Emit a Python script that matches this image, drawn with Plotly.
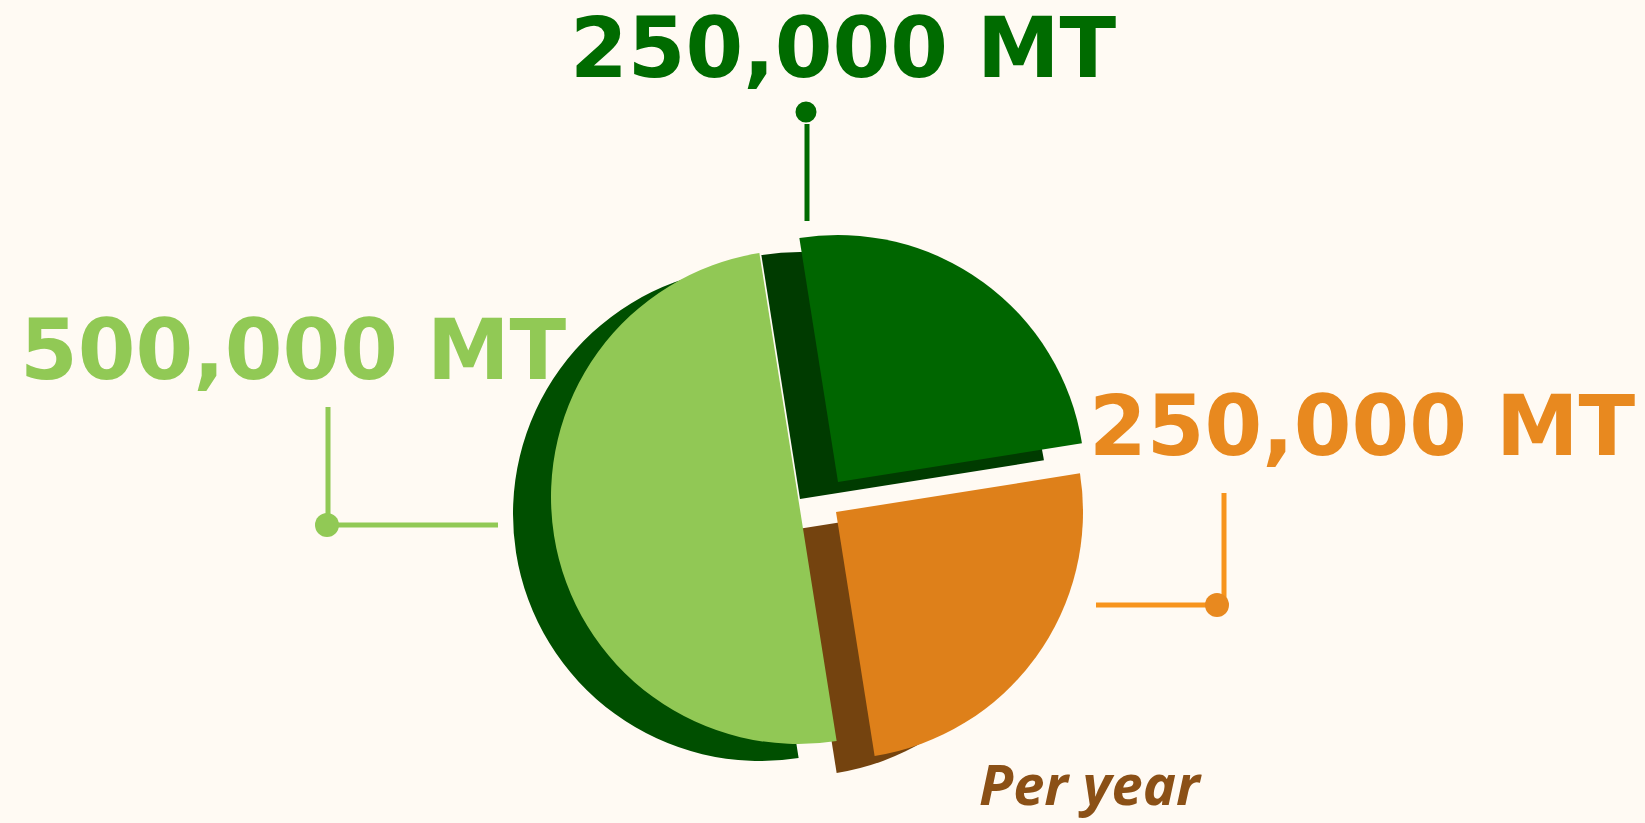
import plotly.graph_objects as go

W, H = 1645, 823

# ---- data ----
segments = ["Segment 1", "Segment 2", "Segment 3"]
volumes_mt = [250000, 250000, 500000]
value_labels = [f"{v:,} MT" for v in volumes_mt]
unit_note = "Per year"

# ---- styles ----
top_colors = ["#006600", "#de801a", "#91c855"]
side_colors = ["#003b00", "#74430f", "#004f00"]
label_colors = ["#006b00", "#e8891f", "#91c955"]
line_colors = ["#006b00", "#f7941d", "#91c955"]
bg = "#fffaf3"

R = 247
slice_centers = [(838, 482), (836, 512), (798, 497)]   # px, per slice (exploded)
depth = (-38, 17)                                       # extrusion offset px
draw_order = [2, 0, 1]


def dom(cx, cy):
    return dict(x=[(cx - R) / W, (cx + R) / W],
                y=[1 - (cy + R) / H, 1 - (cy - R) / H])


fig = go.Figure()
for layer in ("side", "top"):
    for i in draw_order:
        cx, cy = slice_centers[i]
        if layer == "side":
            cx, cy = cx + depth[0], cy + depth[1]
            pal = side_colors
        else:
            pal = top_colors
        cols = [pal[j] if j == i else "rgba(0,0,0,0)" for j in range(len(volumes_mt))]
        fig.add_trace(go.Pie(
            labels=segments, values=volumes_mt, sort=False,
            direction="clockwise", rotation=-9,
            marker=dict(colors=cols, line=dict(width=0)),
            textinfo="none", hoverinfo="skip", showlegend=False,
            domain=dom(cx, cy),
        ))

label_pos = [(843, 48), (1362, 426), (293, 350)]
for i, (x, y) in enumerate(label_pos):
    fig.add_annotation(x=x / W, y=1 - y / H, xref="paper", yref="paper",
                       text=value_labels[i], showarrow=False,
                       xanchor="center", yanchor="middle", borderpad=0,
                       font=dict(family="DejaVu Sans", size=83, color=label_colors[i],
                                 weight="bold"))

fig.add_annotation(x=1090 / W, y=1 - 783 / H, xref="paper", yref="paper",
                   text=unit_note, showarrow=False,
                   xanchor="center", yanchor="middle", borderpad=0,
                   font=dict(family="Noto Sans", size=56, color="#8b5016",
                             weight="bold", style="italic"))

shapes = []


def pline(x0, y0, x1, y1, c, w=5):
    shapes.append(dict(type="line", xref="paper", yref="paper",
                       x0=x0 / W, y0=1 - y0 / H, x1=x1 / W, y1=1 - y1 / H,
                       line=dict(color=c, width=w)))


def dot(x, y, r, c):
    shapes.append(dict(type="circle", xref="paper", yref="paper",
                       x0=(x - r) / W, y0=1 - (y + r) / H, x1=(x + r) / W, y1=1 - (y - r) / H,
                       fillcolor=c, line=dict(width=0)))


# top connector
pline(807, 124, 807, 221, line_colors[0])
dot(806, 112, 10.5, label_colors[0])
# left connector
pline(328, 407, 328, 520, line_colors[2])
pline(328, 525, 498, 525, line_colors[2])
dot(327, 525, 12, label_colors[2])
# right connector
pline(1224, 493, 1224, 600, line_colors[1])
pline(1096, 605, 1217, 605, line_colors[1])
dot(1217, 605, 12, label_colors[1])

fig.update_layout(width=W, height=H, margin=dict(l=0, r=0, t=0, b=0),
                  paper_bgcolor=bg, plot_bgcolor=bg, shapes=shapes)

fig.write_html("out.html", config={"displayModeBar": False},
               post_script="document.body.style.margin='0';document.body.style.overflow='hidden';")
